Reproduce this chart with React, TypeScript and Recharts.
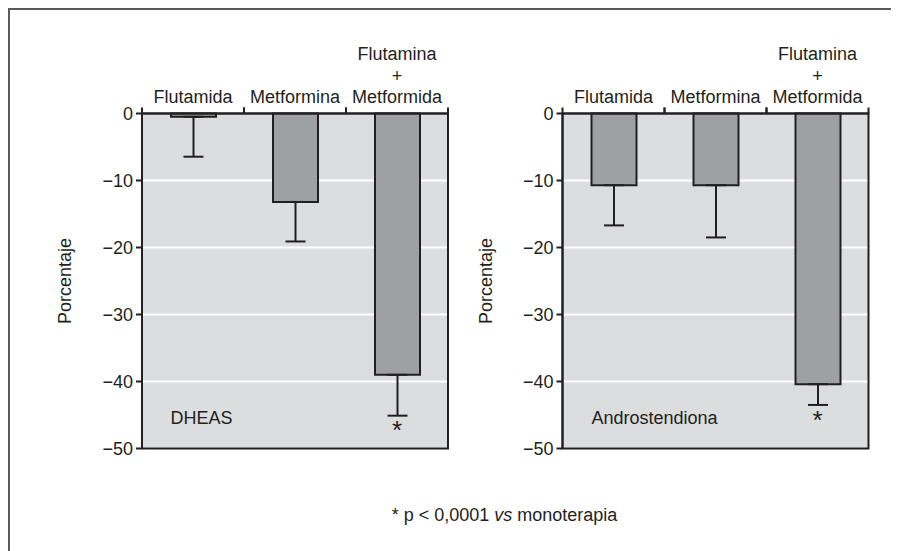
import React from 'react';
import {
  ComposedChart,
  Bar,
  XAxis,
  YAxis,
  CartesianGrid,
  ErrorBar,
  Scatter,
  ReferenceArea,
} from 'recharts';

// ---- data ----
const categories = ['Flutamida', 'Metformina', 'Flutamina + Metformida'];
const categoryLines = [['Flutamida'], ['Metformina'], ['Flutamina', '+', 'Metformida']];

const dheasValues = [-0.5, -13.2, -39.0];
const dheasErrors = [5.95, 5.9, 6.1];
const dheasStars: (number | null)[] = [null, null, -46.9];

const androValues = [-10.7, -10.7, -40.4];
const androErrors = [6.0, 7.8, 3.1];
const androStars: (number | null)[] = [null, null, -45.5];

const yTicks = [0, -10, -20, -30, -40, -50];
const panelLabels = ['DHEAS', 'Androstendiona'];
const yLabel = 'Porcentaje';

// ---- style ----
const FONT = '"Liberation Sans", Arial, Helvetica, sans-serif';
const INK = '#231f20';
const PLOT_BG = '#dcdddf';
const BAR_FILL = '#9fa0a2';
const FS = 18;
const PLOT_W = 306;
const BAND = PLOT_W / categories.length;

const buildData = (values: number[], errors: number[], stars: (number | null)[]) =>
  categories.map((name, i) => ({
    name,
    value: values[i],
    err: [errors[i], 0],
    star: stars[i],
  }));

const dheasData = buildData(dheasValues, dheasErrors, dheasStars);
const androData = buildData(androValues, androErrors, androStars);

const CatTick = (props: any) => {
  const { x, y, index } = props;
  const half = BAND / 2;
  const lines = categoryLines[index] || [];
  return (
    <g>
      <line x1={x - half} x2={x - half} y1={y} y2={y - 6} stroke={INK} strokeWidth={2} />
      <line x1={x + half} x2={x + half} y1={y} y2={y - 6} stroke={INK} strokeWidth={2} />
      {lines.map((l: string, i: number) => (
        <text
          key={i}
          x={x}
          y={y - 10.2 - (lines.length - 1 - i) * 21.7}
          textAnchor="middle"
          fontFamily={FONT}
          fontSize={FS}
          fill={INK}
        >
          {l}
        </text>
      ))}
    </g>
  );
};

const StarShape = (props: any) => {
  const { cx, cy, payload } = props;
  if (payload == null || payload.star == null || cx == null || cy == null) return <g />;
  return (
    <text x={cx} y={cy + 11} textAnchor="middle" fontFamily={FONT} fontSize={26} fill={INK}>
      *
    </text>
  );
};

const fmtY = (v: number) => (v === 0 ? '0' : '\u2212' + Math.abs(v));

const Panel = ({ data, marginLeft, width }: { data: any[]; marginLeft: number; width: number }) => (
  <ComposedChart
    width={width}
    height={460}
    data={data}
    margin={{ top: 35.5, left: marginLeft, right: 10, bottom: 19.5 }}
    barCategoryGap={0}
  >
    <CartesianGrid
      vertical={false}
      horizontal
      stroke="#ffffff"
      strokeWidth={2}
      fill={PLOT_BG}
      fillOpacity={1}
    />
    <XAxis
      dataKey="name"
      orientation="top"
      height={70}
      interval={0}
      tickSize={0}
      tickMargin={0}
      tickLine={false}
      axisLine={{ stroke: INK, strokeWidth: 2 }}
      tick={<CatTick />}
    />
    <YAxis
      domain={[-50, 0]}
      ticks={yTicks}
      interval={0}
      width={94}
      tickSize={6}
      tickMargin={3}
      tickFormatter={fmtY}
      axisLine={{ stroke: INK, strokeWidth: 2 }}
      tickLine={{ stroke: INK, strokeWidth: 2 }}
      tick={{ fill: INK, fontSize: FS, fontFamily: FONT }}
      label={{
        value: yLabel,
        angle: -90,
        position: 'center',
        dx: -30,
        style: { fill: INK, fontSize: FS, fontFamily: FONT, textAnchor: 'middle' },
      }}
    />
    <Bar
      dataKey="value"
      fill={BAR_FILL}
      stroke={INK}
      strokeWidth={2}
      barSize={45}
      isAnimationActive={false}
    >
      <ErrorBar dataKey="err" width={10} stroke={INK} strokeWidth={2} direction="y" />
    </Bar>
    <Scatter dataKey="star" shape={<StarShape />} isAnimationActive={false} />
    <ReferenceArea y1={-50} y2={0} fill="none" stroke={INK} strokeWidth={2} ifOverflow="visible" />
  </ComposedChart>
);

export default function App() {
  return (
    <div style={{ position: 'relative', width: 891, height: 543, fontFamily: FONT, color: INK }}>
      <style>{'body{overflow:hidden}'}</style>
      <div style={{ position: 'absolute', left: 0, top: 0, width: 891, height: 1.5, background: '#5a5a5a' }} />
      <div style={{ position: 'absolute', left: 0, top: 0, width: 1.5, height: 543, background: '#5a5a5a' }} />
      <div style={{ position: 'absolute', left: 0, top: 0 }}>
        <Panel data={dheasData} marginLeft={40} width={450} />
      </div>
      <div style={{ position: 'absolute', left: 450, top: 0 }}>
        <Panel data={androData} marginLeft={10.5} width={420.5} />
      </div>
      <div style={{ position: 'absolute', left: 162.5, top: 400.8, fontSize: FS, lineHeight: '18px', whiteSpace: 'nowrap' }}>
        {panelLabels[0]}
      </div>
      <div style={{ position: 'absolute', left: 583.5, top: 400.8, fontSize: FS, lineHeight: '18px', whiteSpace: 'nowrap' }}>
        {panelLabels[1]}
      </div>
      <div
        style={{
          position: 'absolute',
          left: 496.5,
          top: 497.8,
          transform: 'translateX(-50%)',
          fontSize: FS,
          lineHeight: '18px',
          whiteSpace: 'nowrap',
        }}
      >
        * p &lt; 0,0001 <i>vs</i> monoterapia
      </div>
    </div>
  );
}
